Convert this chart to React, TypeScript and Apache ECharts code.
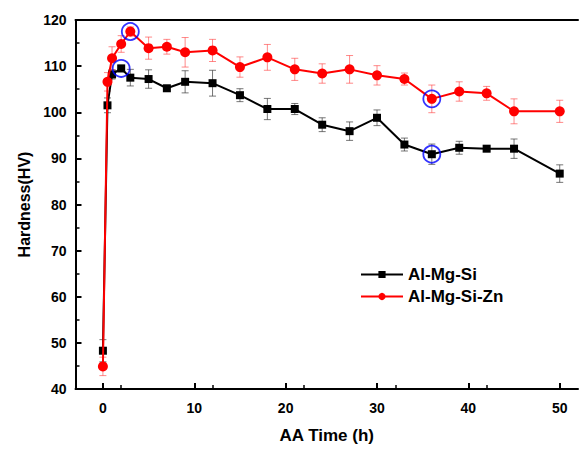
import React, { useEffect, useRef } from "react";
import * as echarts from "echarts";

const times = [0, 0.5, 1, 2, 3, 5, 7, 9, 12, 15, 18, 21, 24, 27, 30, 33, 36, 39, 42, 45, 50];
const alMgSi = [48.3, 101.5, 108.2, 109.5, 107.5, 107.2, 105.2, 106.6, 106.3, 103.7, 100.7, 100.7, 97.3, 95.9, 98.8, 93.0, 90.9, 92.3, 92.1, 92.1, 86.7];
const alMgSiErr = [2.4, 1.6, 1.0, 0.7, 1.8, 2.0, 0.6, 2.4, 2.8, 1.4, 2.3, 1.2, 1.5, 2.0, 1.7, 1.4, 2.2, 1.4, 0.5, 2.1, 1.9];
const alMgSiZn = [44.9, 106.6, 111.7, 114.8, 117.5, 113.9, 114.2, 113.0, 113.4, 109.8, 111.9, 109.3, 108.4, 109.3, 108.0, 107.2, 102.9, 104.5, 104.1, 100.2, 100.2];
const alMgSiZnErr = [2.0, 2.0, 2.5, 1.8, 1.0, 2.4, 1.6, 3.2, 2.4, 2.2, 2.8, 2.4, 2.1, 3.0, 2.1, 1.3, 3.0, 2.1, 1.5, 2.7, 2.4];
// indices of highlighted (circled) points
const circledBlack = [3, 16];
const circledRed = [4, 16];
const xTicks = [0, 10, 20, 30, 40, 50];

const FONT = "'Liberation Sans', Arial, sans-serif";

function errData(vals: number[], errs: number[]) {
  return times.map((t, i) => [t, vals[i] - errs[i], vals[i] + errs[i]]);
}

function errSeries(vals: number[], errs: number[], color: string) {
  return {
    type: "custom",
    silent: true,
    z: 1,
    data: errData(vals, errs),
    renderItem: (params: any, api: any) => {
      const x = api.value(0);
      const lo = api.coord([x, api.value(1)]);
      const hi = api.coord([x, api.value(2)]);
      const w = 3.5;
      const style = { stroke: color, lineWidth: 1 };
      return {
        type: "group",
        children: [
          { type: "line", shape: { x1: hi[0], y1: hi[1], x2: lo[0], y2: lo[1] }, style },
          { type: "line", shape: { x1: hi[0] - w, y1: hi[1], x2: hi[0] + w, y2: hi[1] }, style },
          { type: "line", shape: { x1: lo[0] - w, y1: lo[1], x2: lo[0] + w, y2: lo[1] }, style },
        ],
      };
    },
  };
}

export default function App() {
  const ref = useRef<HTMLDivElement>(null);
  useEffect(() => {
    if (!ref.current) return;
    const chart = echarts.init(ref.current, null, { renderer: "svg" });
    const circles = [
      ...circledBlack.map((i) => [times[i], alMgSi[i]]),
      ...circledRed.map((i) => [times[i], alMgSiZn[i]]),
    ];
    chart.setOption({
      animation: false,
      backgroundColor: "#fff",
      textStyle: { fontFamily: FONT },
      grid: { left: 75.5, right: 1, top: 20, bottom: 55 },
      legend: {
        orient: "vertical",
        left: 355,
        top: 261,
        itemWidth: 42,
        itemHeight: 9,
        itemGap: 5,
        data: ["Al-Mg-Si", "Al-Mg-Si-Zn"],
        textStyle: { fontSize: 17, fontWeight: "bold", color: "#000", fontFamily: FONT },
      },
      xAxis: [
        {
          type: "value",
          min: -3,
          max: 52,
          interval: 10,
          name: "AA Time (h)",
          nameLocation: "middle",
          nameGap: 38,
          nameTextStyle: { fontSize: 17, fontWeight: "bold", color: "#000", fontFamily: FONT },
          axisLine: { show: true, onZero: false, lineStyle: { color: "#000", width: 2 } },
          axisTick: { show: true, inside: true, length: 6, lineStyle: { color: "#000", width: 2 }, customValues: xTicks },
          minorTick: { show: true, splitNumber: 2, length: 4, lineStyle: { color: "#000", width: 1.5 } },
          axisLabel: { fontSize: 14, fontWeight: "bold", color: "#000", margin: 12, customValues: xTicks, fontFamily: FONT },
          splitLine: { show: false },
        },
        {
          type: "value",
          position: "top",
          min: -3,
          max: 52,
          axisLine: { show: true, onZero: false, lineStyle: { color: "#000", width: 2 } },
          axisTick: { show: false },
          axisLabel: { show: false },
          splitLine: { show: false },
        },
      ],
      yAxis: {
        type: "value",
        min: 40,
        max: 120,
        interval: 10,
        name: "Hardness(HV)",
        nameLocation: "middle",
        nameGap: 40,
        nameTextStyle: { fontSize: 16, fontWeight: "bold", color: "#000", fontFamily: FONT },
        axisLine: { show: true, onZero: false, lineStyle: { color: "#000", width: 2 } },
        axisTick: { show: true, inside: true, length: 6, lineStyle: { color: "#000", width: 2 } },
        minorTick: { show: true, splitNumber: 2, length: 4, lineStyle: { color: "#000", width: 1.5 } },
        axisLabel: { fontSize: 14, fontWeight: "bold", color: "#000", margin: 9, fontFamily: FONT },
        splitLine: { show: false },
      },
      series: [
        errSeries(alMgSi, alMgSiErr, "rgba(60,60,60,0.7)"),
        errSeries(alMgSiZn, alMgSiZnErr, "rgba(255,60,60,0.6)"),
        {
          name: "Al-Mg-Si",
          type: "line",
          z: 2,
          data: times.map((t, i) => [t, alMgSi[i]]),
          symbol: "rect",
          symbolSize: 8,
          lineStyle: { color: "#000", width: 2 },
          itemStyle: { color: "#000" },
        },
        {
          name: "Al-Mg-Si-Zn",
          type: "line",
          z: 3,
          data: times.map((t, i) => [t, alMgSiZn[i]]),
          symbol: "circle",
          symbolSize: 10,
          lineStyle: { color: "#ff0000", width: 2 },
          itemStyle: { color: "#ff0000" },
        },
        {
          type: "scatter",
          z: 4,
          silent: true,
          data: circles,
          symbol: "circle",
          symbolSize: 17,
          itemStyle: { color: "transparent", borderColor: "#0000ff", borderWidth: 1.8 },
        },
      ],
    });
    return () => chart.dispose();
  }, []);
  return <div ref={ref} style={{ position: "fixed", left: 0, top: 0, width: 579, height: 449 }} />;
}
